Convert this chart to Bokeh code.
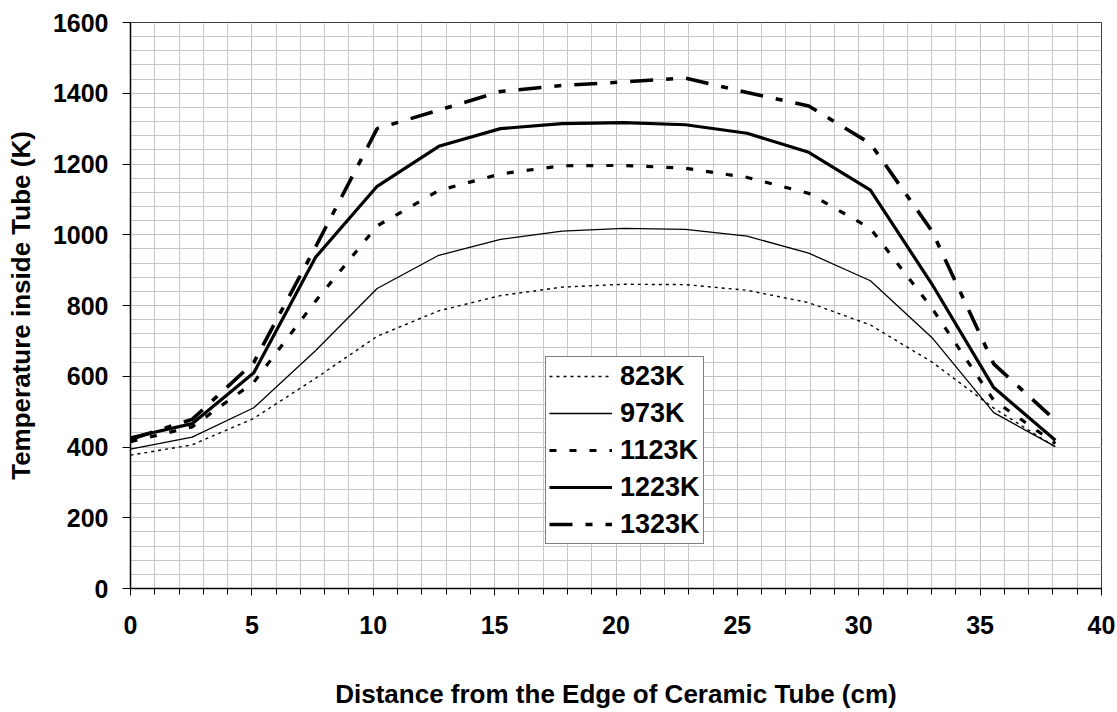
from bokeh.plotting import figure
from bokeh.models import Range1d, SingleIntervalTicker, Legend
from bokeh.embed import file_html
from bokeh.resources import INLINE

# Distance from the edge of the ceramic tube (cm)
distance_cm = [0, 2.54, 5.08, 7.62, 10.16, 12.7, 15.24, 17.78, 20.32, 22.86,
               25.4, 27.94, 30.48, 33.02, 35.56, 38.1]

# Temperature inside tube (K) for each furnace setting
t_823 = [377, 406, 481, 594, 713, 785, 828, 852, 860, 859, 843, 808, 745, 640, 510, 400]
t_973 = [394, 428, 511, 672, 848, 942, 987, 1010, 1018, 1015, 996, 948, 870, 709, 497, 401]
t_1123 = [415, 457, 583, 812, 1025, 1125, 1172, 1195, 1196, 1188, 1162, 1117, 1018, 792, 532, 410]
t_1223 = [426, 466, 610, 936, 1137, 1250, 1300, 1314, 1317, 1311, 1287, 1233, 1126, 860, 568, 419]
t_1323 = [422, 478, 639, 965, 1300, 1352, 1405, 1422, 1432, 1443, 1402, 1364, 1258, 1010, 635, 475]

series_labels = ["823K", "973K", "1123K", "1223K", "1323K"]

FONT = "Liberation Sans"

p = figure(width=1117, height=712, output_backend="svg", toolbar_location=None,
           x_range=Range1d(0, 40), y_range=Range1d(0, 1600),
           min_border_left=130, min_border_right=16, min_border_top=22,
           min_border_bottom=124)

p.background_fill_color = "white"
p.border_fill_color = "white"
p.outline_line_color = "#404040"
p.outline_line_width = 1

# axes
p.xaxis.ticker = SingleIntervalTicker(interval=5, num_minor_ticks=5)
p.yaxis.ticker = SingleIntervalTicker(interval=200, num_minor_ticks=5)

for ax in (p.xaxis, p.yaxis):
    ax.axis_line_color = "black"
    ax.axis_line_width = 1.5
    ax.major_tick_line_color = "black"
    ax.minor_tick_line_color = "black"
    ax.major_tick_in = 0
    ax.minor_tick_in = 0
    ax.major_label_text_font = FONT
    ax.major_label_text_font_style = "bold"
    ax.major_label_text_font_size = "25px"
    ax.major_label_text_color = "black"
    ax.axis_label_text_font = FONT
    ax.axis_label_text_font_style = "bold"
    ax.axis_label_text_font_size = "26px"
    ax.axis_label_text_color = "black"

p.xaxis.major_tick_out = 7
p.xaxis.minor_tick_out = 6
p.xaxis.major_label_standoff = 20
p.xaxis.axis_label = "Distance from the Edge of Ceramic Tube (cm)"
p.xaxis.axis_label_standoff = 42

p.yaxis.major_tick_out = 8
p.yaxis.minor_tick_out = 0
p.yaxis.minor_tick_line_color = None
p.yaxis.major_label_standoff = 14
p.yaxis.axis_label = "Temperature inside Tube (K)"
p.yaxis.axis_label_standoff = 14

# grid
for g in (p.xgrid, p.ygrid):
    g.grid_line_color = "#c0c0c0"
    g.grid_line_width = 1
    g.minor_grid_line_color = "#c8c8c8"
    g.minor_grid_line_width = 1

# series
r1 = p.line(distance_cm, t_823, line_color="black", line_width=1.4, line_dash="3 4")
r2 = p.line(distance_cm, t_973, line_color="black", line_width=1.3)
r3 = p.line(distance_cm, t_1123, line_color="black", line_width=3.2, line_dash="7 13")
r4 = p.line(distance_cm, t_1223, line_color="black", line_width=3.2)
r5 = p.line(distance_cm, t_1323, line_color="black", line_width=3.6, line_dash="23 13 7 13")

legend = Legend(items=[(series_labels[0], [r1]), (series_labels[1], [r2]),
                       (series_labels[2], [r3]), (series_labels[3], [r4]),
                       (series_labels[4], [r5])],
                location=(415, 44))
legend.border_line_color = "black"
legend.border_line_width = 1
legend.background_fill_color = "white"
legend.background_fill_alpha = 1
legend.label_text_font = FONT
legend.label_text_font_style = "bold"
legend.label_text_font_size = "27px"
legend.label_text_color = "black"
legend.glyph_width = 63
legend.glyph_height = 32
legend.label_height = 32
legend.label_standoff = 8
legend.spacing = 5
legend.padding = 3
legend.margin = 0
p.add_layout(legend)

open("out.html", "w").write(file_html(p, INLINE))
